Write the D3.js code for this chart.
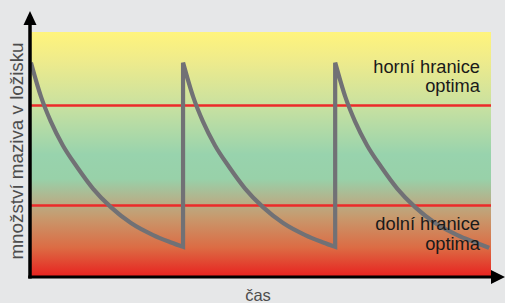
<!DOCTYPE html>
<html>
<head>
<meta charset="utf-8">
<script src="https://cdn.jsdelivr.net/npm/d3@7"></script>
<style>
  body { margin: 0; background: #e6e7e8; }
  svg { display: block; font-family: "Liberation Sans", Arial, sans-serif; }
</style>
</head>
<body>
<svg id="chart"></svg>
<script>
// time (0-100) and lubricant amount (0-100), one array per lubrication cycle
let cycleTimes = [
  [0.2, 2.4, 4.5, 7.1, 10.2, 13.7, 17.6, 21.9, 26.7, 30.6, 33.2],
  [33.2, 35.4, 37.5, 40.1, 43.2, 46.7, 50.6, 54.9, 59.7, 63.6, 66.2],
  [66.2, 68.4, 70.5, 73.1, 76.2, 79.7, 83.6, 87.9, 92.7, 96.6, 99.6]
];
let cycleAmounts = [
  [87.5, 73.5, 63.5, 53.8, 44.9, 36.0, 28.4, 22.0, 17.1, 14.1, 12.3],
  [87.5, 73.5, 63.5, 53.8, 44.9, 36.0, 28.4, 22.0, 17.1, 14.1, 12.3],
  [87.5, 73.5, 63.5, 53.8, 44.9, 36.0, 28.4, 22.0, 17.1, 14.1, 11.9]
];
let limits = [70.0, 29.2];
let limitLabels = [["horní hranice", "optima"], ["dolní hranice", "optima"]];
let xLabel = "čas";
let yLabel = "množství maziva v ložisku";

let width = 505, height = 303;
let padding = { "top": 32, "bottom": 26, "left": 30, "right": 14 };
let svg = d3.select("svg#chart").attr("width", width).attr("height", height);

let x = d3.scaleLinear().domain([0, 100]).range([padding.left, width - padding.right]);
let y = d3.scaleLinear().domain([0, 100]).range([height - padding.bottom, padding.top]);

// background gradient
let grad = svg.append("defs").append("linearGradient")
  .attr("id", "bg").attr("x1", 0).attr("y1", 0).attr("x2", 0).attr("y2", 1);
let stops = [
  [0, "#fff47c"], [0.12, "#eeeb8c"], [0.3, "#c9e1a0"], [0.5, "#98d3ad"],
  [0.6, "#98d1a9"], [0.69, "#b6b089"], [0.76, "#c8986c"], [0.88, "#dc6c44"], [1, "#e8211f"]
];
stops.forEach(function(s) {
  grad.append("stop").attr("offset", s[0]).attr("stop-color", s[1]);
});
svg.append("rect")
  .attr("x", x(0)).attr("y", y(100))
  .attr("width", x(100) - x(0)).attr("height", y(0) - y(100))
  .attr("fill", "url(#bg)");

// optimum limits
svg.selectAll("line.limit").data(limits).enter().append("line")
  .attr("class", "limit")
  .attr("x1", x(0)).attr("x2", x(100))
  .attr("y1", d => y(d)).attr("y2", d => y(d))
  .attr("stroke", "#ec2a2a").attr("stroke-width", 2.5);

// lubricant curve: each cycle smooth, joined by vertical refills
let line = d3.line().x(d => x(d[0])).y(d => y(d[1])).curve(d3.curveMonotoneX);
let pathStr = cycleTimes.map(function(ts, i) {
  let pts = ts.map((t, j) => [t, cycleAmounts[i][j]]);
  let p = line(pts);
  return i ? p.replace(/^M/, "L") : p;
}).join("");
svg.append("path").attr("d", pathStr)
  .attr("fill", "none").attr("stroke", "#717175").attr("stroke-width", 4.2)
  .attr("stroke-linejoin", "miter");

// limit labels
let labelY = [[73, 92], [230, 250]];
limitLabels.forEach(function(lines, i) {
  lines.forEach(function(t, j) {
    svg.append("text")
      .attr("x", 480).attr("y", labelY[i][j])
      .attr("text-anchor", "end")
      .attr("font-size", 18.3).attr("fill", "#1a1a1a")
      .text(t);
  });
});

// axes with arrows
svg.append("line").attr("x1", x(0)).attr("x2", x(0)).attr("y1", y(0) + 1.5).attr("y2", 24)
  .attr("stroke", "#000").attr("stroke-width", 3.5);
svg.append("path").attr("d", "M" + x(0) + ",11 L" + (x(0) - 6.5) + ",25 L" + (x(0) + 6.5) + ",25 Z").attr("fill", "#000");
svg.append("line").attr("x1", x(0) - 1.75).attr("x2", 497).attr("y1", y(0)).attr("y2", y(0))
  .attr("stroke", "#000").attr("stroke-width", 3);
svg.append("path").attr("d", "M505," + y(0) + " L491," + (y(0) - 7) + " L491," + (y(0) + 7) + " Z").attr("fill", "#000");

// axis titles
svg.append("text").attr("x", 258).attr("y", 301).attr("text-anchor", "middle")
  .attr("font-size", 16.5).attr("fill", "#4d4d4d").text(xLabel);
svg.append("text").attr("transform", "translate(" + 23 + "," + 151 + ")rotate(270)")
  .attr("text-anchor", "middle").attr("font-size", 18.8).attr("fill", "#4d4d4d").text(yLabel);
</script>
</body>
</html>
